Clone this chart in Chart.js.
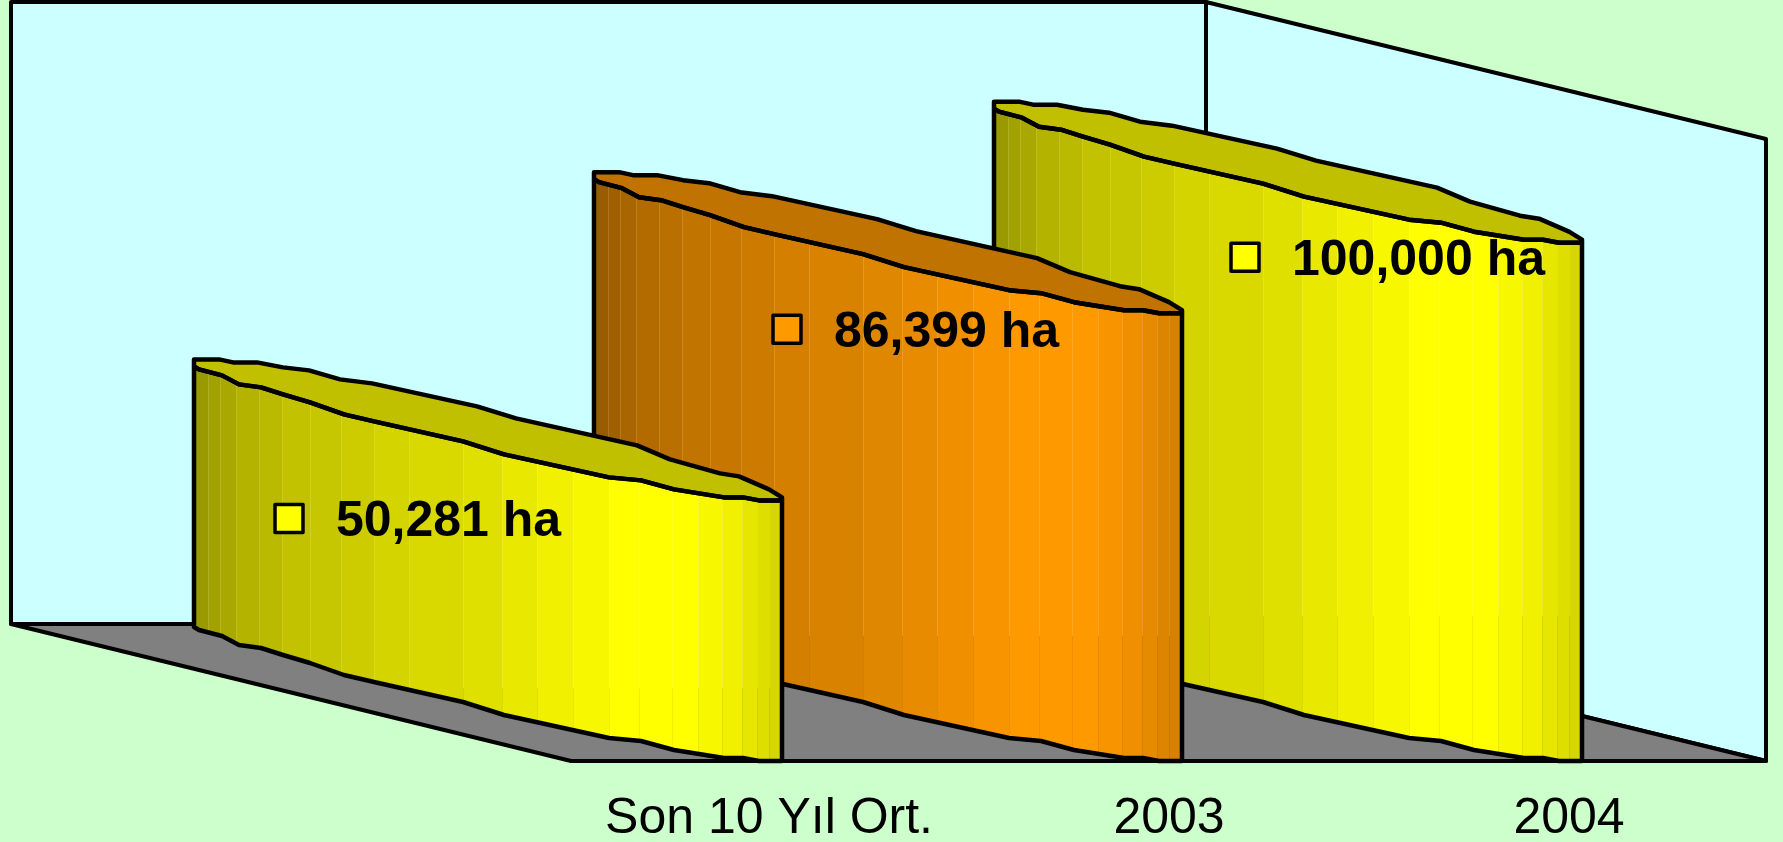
<!DOCTYPE html>
<html>
<head>
<meta charset="utf-8">
<title>Ekim alani</title>
<script src="https://cdn.jsdelivr.net/npm/chart.js@4"></script>
<style>
  html, body { margin: 0; padding: 0; background: #ccffcc; overflow: hidden; }
  canvas { display: block; }
</style>
</head>
<body>
<canvas id="chart" width="1783" height="842"></canvas>
<script>
// data
const categories = ['Son 10 Yıl Ort.', '2003', '2004'];
const hectares = [50281, 86399, 100000];
const axisMax = 120000;

// look of each bar
const barColors = ['#ffff00', '#ff9900', '#ffff00'];
const topColors = ['#c0c000', '#c07300', '#c0c000'];
const keyOffsets = [
  { x: -480, y: 18 },
  { x: -382, y: 16 },
  { x: -324, y: 14.5 }
];

// wavy shape of the ribbon, relative to the front top corner of a bar
const backEdge = [[-588,-141],[-563,-141],[-549,-138],[-525,-138],[-499,-133],[-473,-130],[-442,-121],[-410,-117],
  [-305,-94],[-266,-82],[-145,-55],[-112,-41],[-62,-27],[-43,-24],[-13,-11],[0,-3]];
const frontEdge = [[-588,-134],[-583,-131],[-560,-125],[-543,-116],[-521,-113],[-499,-106],[-472,-98],[-438,-86],
  [-408,-79],[-319,-59],[-278,-46],[-173,-23],[-141,-20],[-108,-11],[-58,-3],[-39,-3],[-23,0],[0,0]];

// shaded vertical strips: [left edge, brightness]
const strips = [[-588,.60],[-574,.63],[-562,.66],[-546,.70],[-523,.73],[-500,.76],[-472,.78],[-441,.80],[-408,.83],
  [-373,.85],[-319,.88],[-280,.91],[-245,.94],[-209,.97],[-173,1],[-143,1],[-110,1],[-84,.97],[-60,.94],[-40,.90],[-25,.87],[-13,.84]];

const depth = { x: -560, y: -137 };
const wallInset = { left: 2, right: 3 };
const lineW = 4.5;

function shade(hex, k) {
  const n = parseInt(hex.slice(1), 16);
  const r = Math.round((n >> 16 & 255) * k);
  const g = Math.round((n >> 8 & 255) * k);
  const b = Math.round((n & 255) * k);
  return `rgb(${r},${g},${b})`;
}

function tracePts(ctx, pts, ox, oy, first) {
  pts.forEach((p, i) => {
    if (i == 0 && first) ctx.moveTo(ox + p[0], oy + p[1]);
    else ctx.lineTo(ox + p[0], oy + p[1]);
  });
}

const wallsPlugin = {
  id: 'walls',
  beforeDatasetsDraw(chart) {
    const ctx = chart.ctx;
    const a = chart.chartArea;
    const left = a.left + wallInset.left;
    const right = a.right - wallInset.right;
    const y0 = chart.scales.y.getPixelForValue(0);
    const yTop = chart.scales.y.getPixelForValue(axisMax);
    const poly = (pts, fill) => {
      ctx.beginPath();
      tracePts(ctx, pts, 0, 0, true);
      ctx.closePath();
      ctx.fillStyle = fill;
      ctx.fill();
      ctx.stroke();
    };
    ctx.save();
    ctx.lineWidth = 4;
    ctx.lineJoin = 'round';
    ctx.strokeStyle = '#000';
    const bl = left + depth.x, br = right + depth.x;
    // back wall, side wall, floor
    poly([[bl, yTop + depth.y], [br, yTop + depth.y], [br, y0 + depth.y], [bl, y0 + depth.y]], '#ccffff');
    poly([[br, yTop + depth.y], [right, yTop], [right, y0], [br, y0 + depth.y]], '#ccffff');
    poly([[bl, y0 + depth.y], [br, y0 + depth.y], [right, y0], [left, y0]], '#808080');
    ctx.restore();
  }
};

const ribbonPlugin = {
  id: 'ribbons',
  afterDatasetsDraw(chart) {
    const ctx = chart.ctx;
    const bars = chart.getDatasetMeta(0).data;
    // far bar first
    for (let i = bars.length - 1; i >= 0; i--) {
      const el = bars[i];
      const right = el.x + el.width / 2;
      const top = el.y;
      const h = el.base - el.y;

      ctx.save();
      ctx.lineWidth = lineW;
      ctx.lineJoin = 'round';
      ctx.strokeStyle = '#000';

      // body with strips
      ctx.save();
      ctx.beginPath();
      tracePts(ctx, frontEdge, right, top, true);
      tracePts(ctx, frontEdge.slice().reverse(), right, top + h, false);
      ctx.closePath();
      ctx.clip();
      strips.forEach((s, k) => {
        const x1 = k + 1 < strips.length ? strips[k + 1][0] : 0;
        ctx.fillStyle = shade(barColors[i], s[1]);
        ctx.fillRect(right + s[0], top - 150, x1 - s[0] + 1, h + 160);
        if (k > 0) {
          ctx.fillStyle = 'rgba(255,255,255,0.14)';
          ctx.fillRect(right + s[0], top - 150, 1, 150 + h * 0.72);
          ctx.fillStyle = 'rgba(0,0,0,0.06)';
          ctx.fillRect(right + s[0], top + h * 0.72, 1, h);
        }
      });
      ctx.restore();

      // top face
      ctx.beginPath();
      tracePts(ctx, backEdge, right, top, true);
      tracePts(ctx, frontEdge.slice().reverse(), right, top, false);
      ctx.closePath();
      ctx.fillStyle = topColors[i];
      ctx.fill();
      ctx.stroke();

      // outline of the body
      ctx.beginPath();
      ctx.moveTo(right + frontEdge[0][0], top + frontEdge[0][1]);
      tracePts(ctx, frontEdge, right, top + h, false);
      ctx.lineTo(right, top);
      ctx.stroke();
      ctx.beginPath();
      tracePts(ctx, frontEdge, right, top, true);
      ctx.stroke();

      // key box and value label
      const kx = el.x + keyOffsets[i].x;
      const ky = top + keyOffsets[i].y;
      ctx.fillStyle = barColors[i];
      ctx.fillRect(kx - 14, ky - 14, 28, 28);
      ctx.lineWidth = 3.5;
      ctx.strokeRect(kx - 14, ky - 14, 28, 28);
      ctx.fillStyle = '#000';
      ctx.font = 'bold 50px "Liberation Sans"';
      ctx.textAlign = 'left';
      ctx.textBaseline = 'alphabetic';
      ctx.fillText(hectares[i].toLocaleString('en-US') + ' ha', kx + 47, ky + 18);
      ctx.restore();
    }
  }
};

function chart() {
  const $chartArea = document.querySelector('#chart');
  const ctx = $chartArea.getContext('2d');

  new Chart(ctx, {
    type: 'bar',
    data: {
      labels: categories,
      datasets: [{
        data: hectares,
        backgroundColor: barColors,
        barThickness: 26
      }]
    },
    options: {
      responsive: false,
      animation: false,
      layout: {
        padding: { left: 569, right: 14, top: 139, bottom: 0 }
      },
      plugins: {
        legend: { display: false },
        tooltip: { enabled: false }
      },
      scales: {
        x: {
          afterFit: (scale) => { scale.height = 81; },
          grid: { display: false, drawTicks: false },
          border: { display: false },
          ticks: {
            color: '#000',
            padding: 28,
            autoSkip: false,
            maxRotation: 0,
            font: { family: '"Liberation Sans"', size: 50 }
          }
        },
        y: {
          display: false,
          min: 0,
          max: axisMax
        }
      }
    },
    plugins: [wallsPlugin, ribbonPlugin]
  });
}
chart();
</script>
</body>
</html>
